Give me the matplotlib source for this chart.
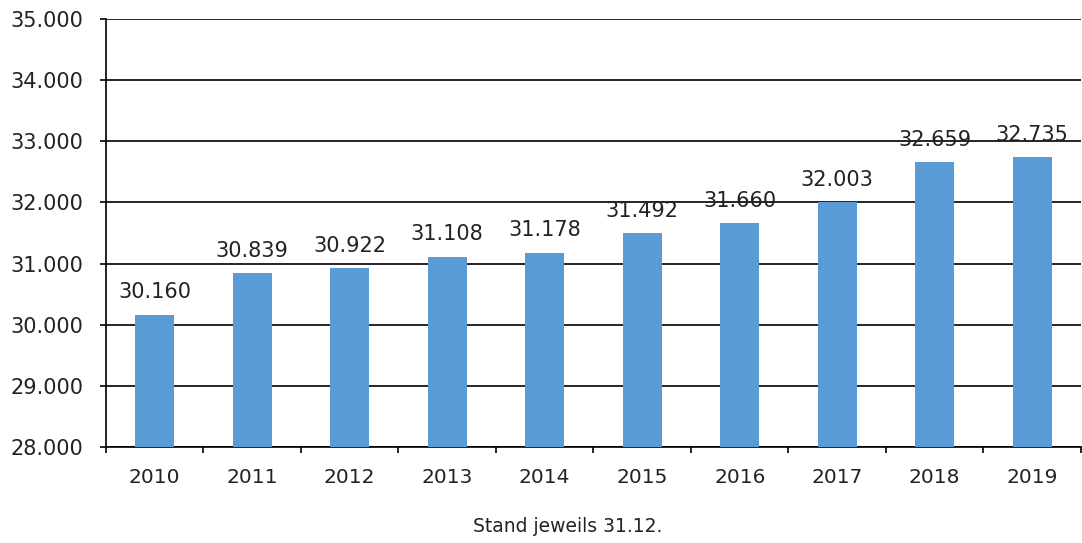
import matplotlib
matplotlib.use("Agg")
import matplotlib.pyplot as plt
from matplotlib.ticker import FuncFormatter, FixedLocator

years = ["2010", "2011", "2012", "2013", "2014", "2015", "2016", "2017", "2018", "2019"]
values = [30160, 30839, 30922, 31108, 31178, 31492, 31660, 32003, 32659, 32735]
caption = "Stand jeweils 31.12."

plt.rcParams['font.family'] = ['DejaVu Sans']

fig = plt.figure(figsize=(10.82, 5.43), dpi=100)
ax = fig.add_axes([106/1082, 1-447/543, 1-106/1082 - 0.001, (447-19)/543])

x = list(range(len(years)))
ax.bar(x, [v - 28000 for v in values], bottom=28000, width=0.4, color="#5B9BD5", zorder=3)

def fmt(v, pos=None):
    return f"{int(round(v)):,}".replace(",", ".")

for xi, v in zip(x, values):
    ax.annotate(fmt(v), (xi, v), xytext=(0, 9), textcoords="offset points",
                ha="center", va="bottom", fontsize=15, color="#222222", zorder=4)

ax.set_ylim(28000, 35000)
ax.set_xlim(-0.5, len(years) - 0.5)
ax.set_yticks(range(28000, 35001, 1000))
ax.yaxis.set_major_formatter(FuncFormatter(fmt))
ax.grid(axis="y", color="black", linewidth=1.2, zorder=0)
ax.set_axisbelow(True)

ax.set_xticks(x)
ax.set_xticklabels(years)
ax.tick_params(axis="x", which="major", length=0, pad=15, labelsize=14.5, labelcolor="#222222")
ax.xaxis.set_minor_locator(FixedLocator([i - 0.5 for i in range(len(years) + 1)]))
ax.tick_params(axis="x", which="minor", length=4.5, width=1.2, color="black")
ax.tick_params(axis="y", length=4.5, width=1.2, color="black", labelsize=15, labelcolor="#222222", pad=12)

for s in ["top", "right"]:
    ax.spines[s].set_visible(False)
for s in ["left", "bottom"]:
    ax.spines[s].set_linewidth(1.2)
    ax.spines[s].set_color("black")

fig.text(568/1082, 1-527/543, caption, ha="center", va="center", fontsize=13.5, color="#222222")

fig.savefig("out.png", dpi=100)
